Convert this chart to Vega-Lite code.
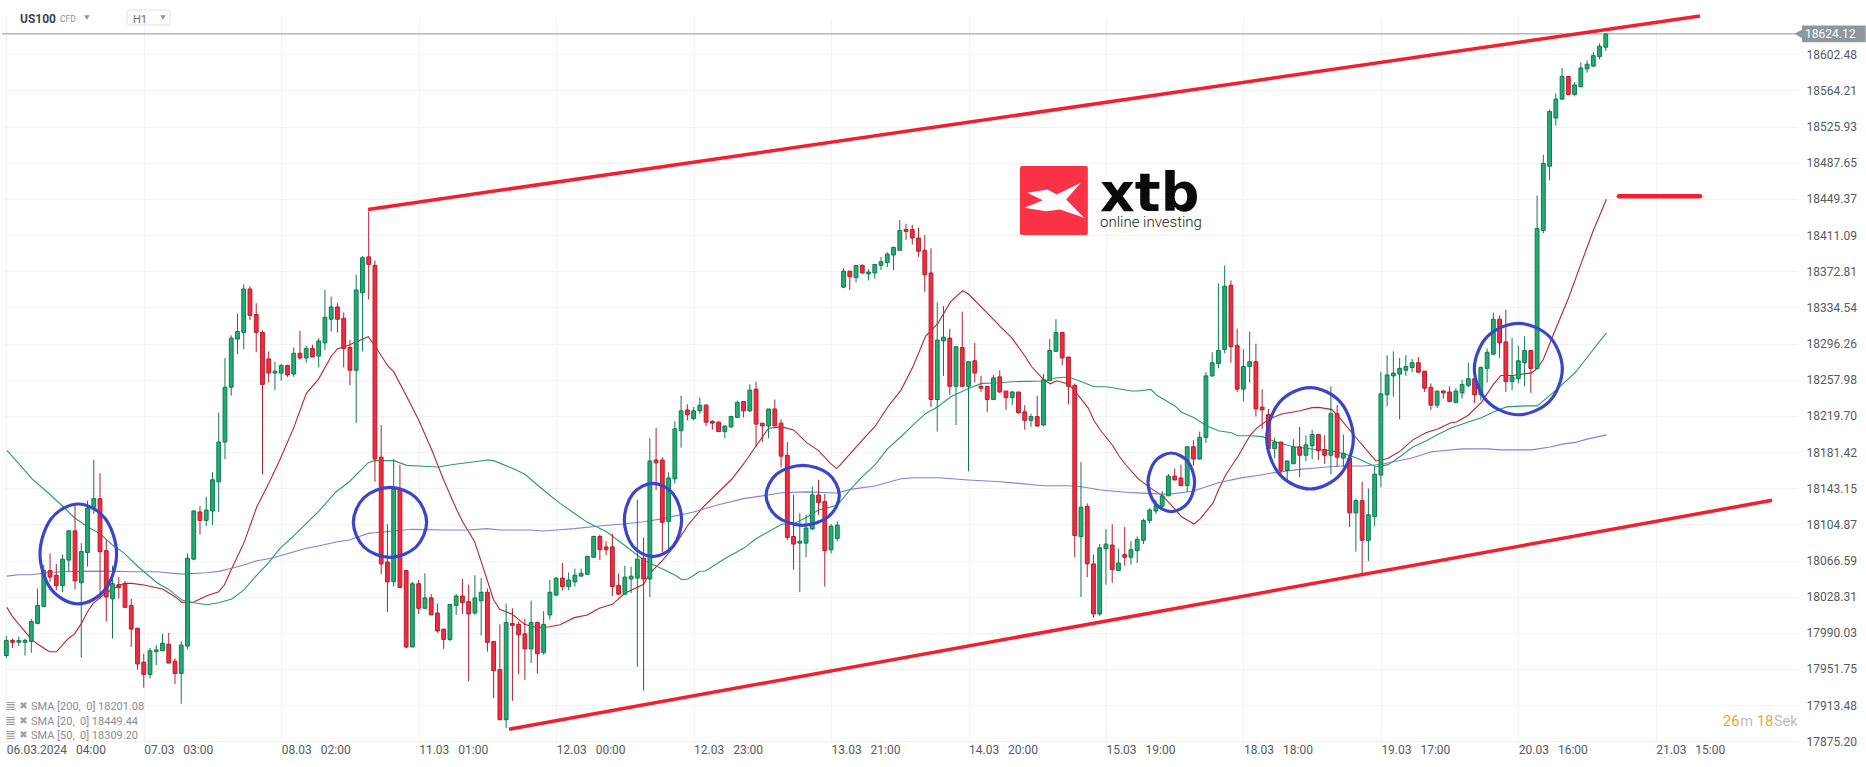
{
"$schema":"https://vega.github.io/schema/vega-lite/v6.json",
"width":1796,"height":723.3,
"autosize":{"type":"none"},
"padding":{"left":2,"top":18,"right":68,"bottom":25.7},
"background":"#ffffff",
"config":{"view":{"stroke":null},"font":"Roboto"},
"datasets":{
"candles":[
{"i":0,"o":17966,"h":17987,"l":17963,"c":17982},{"i":1,"o":17982,"h":17984,"l":17974,"c":17980},{"i":2,"o":17980,"h":17986,"l":17976,"c":17982},{"i":3,"o":17980,"h":17984,"l":17966,"c":17982},{"i":4,"o":17981,"h":18005,"l":17969,"c":18002},{"i":5,"o":18000,"h":18037,"l":17999,"c":18019},{"i":6,"o":18018,"h":18062,"l":18018,"c":18056},{"i":7,"o":18056,"h":18074,"l":18044,"c":18049},{"i":8,"o":18051,"h":18063,"l":18035,"c":18040},{"i":9,"o":18040,"h":18073,"l":18033,"c":18068},
{"i":10,"o":18067,"h":18099,"l":18055,"c":18098},{"i":11,"o":18098,"h":18125,"l":18036,"c":18045},{"i":12,"o":18043,"h":18085,"l":17964,"c":18076},{"i":13,"o":18075,"h":18130,"l":18060,"c":18122},{"i":14,"o":18123,"h":18173,"l":18116,"c":18132},{"i":15,"o":18132,"h":18159,"l":18026,"c":18076},{"i":16,"o":18077,"h":18088,"l":18002,"c":18028},{"i":17,"o":18026,"h":18061,"l":17984,"c":18042},{"i":18,"o":18041,"h":18049,"l":18026,"c":18038},{"i":19,"o":18042,"h":18045,"l":18017,"c":18017},
{"i":20,"o":18019,"h":18026,"l":17975,"c":17994},{"i":21,"o":17995,"h":17995,"l":17951,"c":17957},{"i":22,"o":17959,"h":17968,"l":17932,"c":17946},{"i":23,"o":17946,"h":17974,"l":17942,"c":17971},{"i":24,"o":17970,"h":17977,"l":17956,"c":17972},{"i":25,"o":17971,"h":17989,"l":17971,"c":17979},{"i":26,"o":17978,"h":17990,"l":17958,"c":17958},{"i":27,"o":17960,"h":17963,"l":17936,"c":17947},{"i":28,"o":17947,"h":17981,"l":17915,"c":17977},{"i":29,"o":17976,"h":18074,"l":17973,"c":18069},
{"i":30,"o":18068,"h":18120,"l":18067,"c":18119},{"i":31,"o":18118,"h":18124,"l":18094,"c":18109},{"i":32,"o":18109,"h":18134,"l":18103,"c":18120},{"i":33,"o":18119,"h":18160,"l":18104,"c":18152},{"i":34,"o":18150,"h":18223,"l":18118,"c":18192},{"i":35,"o":18192,"h":18281,"l":18174,"c":18250},{"i":36,"o":18250,"h":18305,"l":18241,"c":18302},{"i":37,"o":18301,"h":18328,"l":18285,"c":18309},{"i":38,"o":18308,"h":18359,"l":18290,"c":18354},{"i":39,"o":18354,"h":18357,"l":18321,"c":18326},
{"i":40,"o":18327,"h":18339,"l":18287,"c":18308},{"i":41,"o":18308,"h":18310,"l":18158,"c":18253},{"i":42,"o":18280,"h":18288,"l":18255,"c":18265},{"i":43,"o":18265,"h":18277,"l":18247,"c":18267},{"i":44,"o":18265,"h":18275,"l":18257,"c":18273},{"i":45,"o":18273,"h":18274,"l":18261,"c":18263},{"i":46,"o":18264,"h":18292,"l":18261,"c":18286},{"i":47,"o":18286,"h":18310,"l":18279,"c":18281},{"i":48,"o":18281,"h":18294,"l":18276,"c":18291},{"i":49,"o":18291,"h":18295,"l":18282,"c":18282},
{"i":50,"o":18283,"h":18302,"l":18271,"c":18299},{"i":51,"o":18297,"h":18353,"l":18289,"c":18324},{"i":52,"o":18322,"h":18346,"l":18309,"c":18335},{"i":53,"o":18335,"h":18339,"l":18308,"c":18322},{"i":54,"o":18323,"h":18329,"l":18271,"c":18291},{"i":55,"o":18292,"h":18300,"l":18252,"c":18268},{"i":56,"o":18268,"h":18369,"l":18212,"c":18353},{"i":57,"o":18350,"h":18389,"l":18288,"c":18387},{"i":58,"o":18388,"h":18436,"l":18343,"c":18380},{"i":59,"o":18379,"h":18384,"l":18150,"c":18174},
{"i":60,"o":18176,"h":18210,"l":18052,"c":18063},{"i":61,"o":18065,"h":18105,"l":18012,"c":18044},{"i":62,"o":18044,"h":18174,"l":18039,"c":18142},{"i":63,"o":18143,"h":18168,"l":18038,"c":18038},{"i":64,"o":18056,"h":18056,"l":17974,"c":17975},{"i":65,"o":17975,"h":18044,"l":17975,"c":18042},{"i":66,"o":18042,"h":18046,"l":18010,"c":18016},{"i":67,"o":18016,"h":18053,"l":18015,"c":18027},{"i":68,"o":18027,"h":18031,"l":18009,"c":18009},{"i":69,"o":18011,"h":18021,"l":17990,"c":17992},
{"i":70,"o":17994,"h":17994,"l":17973,"c":17983},{"i":71,"o":17983,"h":18020,"l":17981,"c":18020},{"i":72,"o":18019,"h":18031,"l":18009,"c":18029},{"i":73,"o":18029,"h":18047,"l":18010,"c":18022},{"i":74,"o":18023,"h":18041,"l":17939,"c":18010},{"i":75,"o":18011,"h":18051,"l":18009,"c":18027},{"i":76,"o":18024,"h":18048,"l":17987,"c":18033},{"i":77,"o":18033,"h":18037,"l":17970,"c":17980},{"i":78,"o":17981,"h":17981,"l":17921,"c":17950},{"i":79,"o":17951,"h":17999,"l":17898,"c":17898},
{"i":80,"o":17898,"h":18021,"l":17889,"c":18001},{"i":81,"o":18000,"h":18016,"l":17918,"c":17998},{"i":82,"o":17999,"h":18002,"l":17946,"c":17988},{"i":83,"o":17989,"h":18005,"l":17940,"c":17973},{"i":84,"o":17973,"h":18024,"l":17958,"c":18001},{"i":85,"o":18001,"h":18002,"l":17947,"c":17968},{"i":86,"o":17969,"h":18013,"l":17967,"c":17999},{"i":87,"o":18009,"h":18046,"l":18004,"c":18033},{"i":88,"o":18030,"h":18049,"l":18029,"c":18048},{"i":89,"o":18048,"h":18064,"l":18035,"c":18039},
{"i":90,"o":18039,"h":18054,"l":18035,"c":18046},{"i":91,"o":18044,"h":18058,"l":18039,"c":18051},{"i":92,"o":18050,"h":18058,"l":18050,"c":18053},{"i":93,"o":18052,"h":18071,"l":18052,"c":18071},{"i":94,"o":18070,"h":18093,"l":18070,"c":18092},{"i":95,"o":18092,"h":18094,"l":18067,"c":18078},{"i":96,"o":18081,"h":18087,"l":18072,"c":18078},{"i":97,"o":18081,"h":18095,"l":18029,"c":18039},{"i":98,"o":18040,"h":18053,"l":18030,"c":18031},{"i":99,"o":18031,"h":18061,"l":18030,"c":18049},
{"i":100,"o":18047,"h":18060,"l":18032,"c":18050},{"i":101,"o":18048,"h":18131,"l":17954,"c":18068},{"i":102,"o":18069,"h":18091,"l":17929,"c":18047},{"i":103,"o":18047,"h":18196,"l":18028,"c":18172},{"i":104,"o":18173,"h":18207,"l":18141,"c":18170},{"i":105,"o":18173,"h":18176,"l":18075,"c":18107},{"i":106,"o":18108,"h":18160,"l":18075,"c":18154},{"i":107,"o":18153,"h":18214,"l":18148,"c":18206},{"i":108,"o":18204,"h":18241,"l":18186,"c":18225},{"i":109,"o":18226,"h":18232,"l":18215,"c":18221},
{"i":110,"o":18217,"h":18229,"l":18215,"c":18225},{"i":111,"o":18225,"h":18239,"l":18222,"c":18231},{"i":112,"o":18231,"h":18232,"l":18209,"c":18213},{"i":113,"o":18214,"h":18215,"l":18205,"c":18212},{"i":114,"o":18213,"h":18214,"l":18203,"c":18203},{"i":115,"o":18203,"h":18209,"l":18196,"c":18209},{"i":116,"o":18208,"h":18220,"l":18207,"c":18219},{"i":117,"o":18218,"h":18236,"l":18218,"c":18234},{"i":118,"o":18235,"h":18235,"l":18218,"c":18225},{"i":119,"o":18225,"h":18253,"l":18224,"c":18247},
{"i":120,"o":18248,"h":18256,"l":18187,"c":18211},{"i":121,"o":18212,"h":18212,"l":18192,"c":18209},{"i":122,"o":18209,"h":18227,"l":18196,"c":18227},{"i":123,"o":18227,"h":18237,"l":18209,"c":18209},{"i":124,"o":18212,"h":18216,"l":18165,"c":18177},{"i":125,"o":18178,"h":18192,"l":18088,"c":18091},{"i":126,"o":18092,"h":18136,"l":18057,"c":18084},{"i":127,"o":18085,"h":18117,"l":18033,"c":18087},{"i":128,"o":18085,"h":18115,"l":18070,"c":18101},{"i":129,"o":18100,"h":18145,"l":18099,"c":18136},
{"i":130,"o":18136,"h":18152,"l":18115,"c":18128},{"i":131,"o":18129,"h":18137,"l":18039,"c":18077},{"i":132,"o":18078,"h":18105,"l":18074,"c":18103},{"i":133,"o":18090,"h":18108,"l":18087,"c":18104},{"i":134,"o":18356,"h":18376,"l":18355,"c":18373},{"i":135,"o":18373,"h":18373,"l":18353,"c":18367},{"i":136,"o":18366,"h":18379,"l":18361,"c":18379},{"i":137,"o":18379,"h":18380,"l":18370,"c":18371},{"i":138,"o":18370,"h":18375,"l":18363,"c":18372},{"i":139,"o":18371,"h":18380,"l":18365,"c":18380},
{"i":140,"o":18379,"h":18388,"l":18374,"c":18383},{"i":141,"o":18382,"h":18393,"l":18377,"c":18391},{"i":142,"o":18390,"h":18399,"l":18374,"c":18398},{"i":143,"o":18395,"h":18427,"l":18395,"c":18416},{"i":144,"o":18417,"h":18423,"l":18406,"c":18415},{"i":145,"o":18417,"h":18422,"l":18401,"c":18408},{"i":146,"o":18408,"h":18419,"l":18388,"c":18394},{"i":147,"o":18395,"h":18411,"l":18351,"c":18369},{"i":148,"o":18371,"h":18397,"l":18229,"c":18237},{"i":149,"o":18237,"h":18340,"l":18203,"c":18300},
{"i":150,"o":18299,"h":18336,"l":18262,"c":18303},{"i":151,"o":18302,"h":18312,"l":18242,"c":18251},{"i":152,"o":18251,"h":18293,"l":18210,"c":18293},{"i":153,"o":18292,"h":18330,"l":18250,"c":18251},{"i":154,"o":18251,"h":18277,"l":18161,"c":18277},{"i":155,"o":18278,"h":18297,"l":18255,"c":18265},{"i":156,"o":18251,"h":18262,"l":18245,"c":18249},{"i":157,"o":18251,"h":18251,"l":18224,"c":18237},{"i":158,"o":18237,"h":18263,"l":18237,"c":18260},{"i":159,"o":18261,"h":18268,"l":18244,"c":18245},
{"i":160,"o":18246,"h":18246,"l":18226,"c":18239},{"i":161,"o":18239,"h":18246,"l":18231,"c":18245},{"i":162,"o":18245,"h":18245,"l":18222,"c":18223},{"i":163,"o":18224,"h":18231,"l":18205,"c":18215},{"i":164,"o":18215,"h":18222,"l":18208,"c":18219},{"i":165,"o":18219,"h":18241,"l":18208,"c":18209},{"i":166,"o":18210,"h":18264,"l":18209,"c":18258},{"i":167,"o":18257,"h":18301,"l":18257,"c":18289},{"i":168,"o":18288,"h":18322,"l":18288,"c":18308},{"i":169,"o":18308,"h":18308,"l":18273,"c":18281},
{"i":170,"o":18282,"h":18282,"l":18232,"c":18251},{"i":171,"o":18252,"h":18254,"l":18070,"c":18093},{"i":172,"o":18092,"h":18171,"l":18028,"c":18123},{"i":173,"o":18124,"h":18127,"l":18049,"c":18063},{"i":174,"o":18063,"h":18073,"l":18006,"c":18010},{"i":175,"o":18010,"h":18084,"l":18008,"c":18080},{"i":176,"o":18079,"h":18100,"l":18041,"c":18084},{"i":177,"o":18083,"h":18105,"l":18043,"c":18057},{"i":178,"o":18056,"h":18079,"l":18056,"c":18064},{"i":179,"o":18073,"h":18102,"l":18061,"c":18070},
{"i":180,"o":18070,"h":18087,"l":18062,"c":18078},{"i":181,"o":18077,"h":18092,"l":18064,"c":18089},{"i":182,"o":18088,"h":18111,"l":18084,"c":18109},{"i":183,"o":18109,"h":18122,"l":18106,"c":18120},{"i":184,"o":18119,"h":18131,"l":18116,"c":18125},{"i":185,"o":18124,"h":18140,"l":18123,"c":18135},{"i":186,"o":18135,"h":18158,"l":18135,"c":18156},{"i":187,"o":18156,"h":18164,"l":18151,"c":18152},{"i":188,"o":18154,"h":18168,"l":18145,"c":18146},{"i":189,"o":18146,"h":18187,"l":18139,"c":18187},
{"i":190,"o":18187,"h":18194,"l":18167,"c":18174},{"i":191,"o":18174,"h":18203,"l":18173,"c":18197},{"i":192,"o":18197,"h":18266,"l":18191,"c":18262},{"i":193,"o":18262,"h":18287,"l":18261,"c":18276},{"i":194,"o":18275,"h":18360,"l":18270,"c":18289},{"i":195,"o":18290,"h":18379,"l":18286,"c":18357},{"i":196,"o":18358,"h":18363,"l":18276,"c":18293},{"i":197,"o":18294,"h":18312,"l":18245,"c":18248},{"i":198,"o":18248,"h":18290,"l":18235,"c":18272},{"i":199,"o":18272,"h":18309,"l":18255,"c":18277},
{"i":200,"o":18277,"h":18296,"l":18219,"c":18227},{"i":201,"o":18229,"h":18248,"l":18206,"c":18226},{"i":202,"o":18221,"h":18227,"l":18185,"c":18185},{"i":203,"o":18185,"h":18197,"l":18175,"c":18192},{"i":204,"o":18192,"h":18192,"l":18157,"c":18162},{"i":205,"o":18162,"h":18172,"l":18152,"c":18172},{"i":206,"o":18169,"h":18195,"l":18169,"c":18187},{"i":207,"o":18187,"h":18208,"l":18155,"c":18178},{"i":208,"o":18178,"h":18199,"l":18172,"c":18189},{"i":209,"o":18188,"h":18205,"l":18174,"c":18200},
{"i":210,"o":18200,"h":18200,"l":18173,"c":18183},{"i":211,"o":18184,"h":18199,"l":18169,"c":18178},{"i":212,"o":18178,"h":18251,"l":18158,"c":18222},{"i":213,"o":18222,"h":18231,"l":18166,"c":18176},{"i":214,"o":18175,"h":18200,"l":18166,"c":18180},{"i":215,"o":18175,"h":18179,"l":18102,"c":18117},{"i":216,"o":18117,"h":18132,"l":18076,"c":18130},{"i":217,"o":18130,"h":18150,"l":18050,"c":18088},{"i":218,"o":18088,"h":18143,"l":18066,"c":18115},{"i":219,"o":18113,"h":18166,"l":18103,"c":18158},
{"i":220,"o":18157,"h":18266,"l":18144,"c":18243},{"i":221,"o":18242,"h":18284,"l":18230,"c":18263},{"i":222,"o":18262,"h":18288,"l":18240,"c":18265},{"i":223,"o":18264,"h":18281,"l":18216,"c":18270},{"i":224,"o":18268,"h":18284,"l":18262,"c":18272},{"i":225,"o":18271,"h":18280,"l":18266,"c":18276},{"i":226,"o":18276,"h":18282,"l":18265,"c":18266},{"i":227,"o":18267,"h":18267,"l":18245,"c":18249},{"i":228,"o":18250,"h":18254,"l":18226,"c":18231},{"i":229,"o":18231,"h":18246,"l":18228,"c":18246},
{"i":230,"o":18246,"h":18247,"l":18238,"c":18244},{"i":231,"o":18245,"h":18251,"l":18234,"c":18235},{"i":232,"o":18234,"h":18249,"l":18233,"c":18246},{"i":233,"o":18244,"h":18258,"l":18238,"c":18253},{"i":234,"o":18252,"h":18276,"l":18250,"c":18259},{"i":235,"o":18259,"h":18262,"l":18233,"c":18242},{"i":236,"o":18242,"h":18272,"l":18236,"c":18271},{"i":237,"o":18270,"h":18291,"l":18255,"c":18287},{"i":238,"o":18285,"h":18329,"l":18284,"c":18322},{"i":239,"o":18322,"h":18326,"l":18281,"c":18297},
{"i":240,"o":18298,"h":18332,"l":18245,"c":18256},{"i":241,"o":18256,"h":18302,"l":18247,"c":18261},{"i":242,"o":18259,"h":18294,"l":18254,"c":18278},{"i":243,"o":18276,"h":18304,"l":18251,"c":18289},{"i":244,"o":18289,"h":18289,"l":18244,"c":18270},{"i":245,"o":18270,"h":18453,"l":18270,"c":18418},{"i":246,"o":18416,"h":18496,"l":18413,"c":18487},{"i":247,"o":18484,"h":18544,"l":18469,"c":18542},{"i":248,"o":18535,"h":18561,"l":18527,"c":18555},{"i":249,"o":18555,"h":18588,"l":18555,"c":18579},
{"i":250,"o":18579,"h":18579,"l":18559,"c":18560},{"i":251,"o":18560,"h":18573,"l":18558,"c":18570},{"i":252,"o":18568,"h":18594,"l":18568,"c":18588},{"i":253,"o":18587,"h":18596,"l":18583,"c":18592},{"i":254,"o":18590,"h":18605,"l":18589,"c":18601},{"i":255,"o":18600,"h":18614,"l":18597,"c":18611},{"i":256,"o":18610,"h":18625,"l":18606,"c":18624}
],
"sma":[
{"s":"SMA20","i":0.1,"p":18017},{"s":"SMA20","i":1,"p":18007.1},{"s":"SMA20","i":4.04,"p":17983.1},{"s":"SMA20","i":5,"p":17978.2},{"s":"SMA20","i":6.9,"p":17970},{"s":"SMA20","i":8,"p":17970},{"s":"SMA20","i":9.94,"p":17984.1},{"s":"SMA20","i":10.9,"p":17988.7},{"s":"SMA20","i":12,"p":17999.8},{"s":"SMA20","i":13,"p":18012.4},{"s":"SMA20","i":13.9,"p":18021.2},{"s":"SMA20","i":14.9,"p":18026.5},{"s":"SMA20","i":16,"p":18032.5},{"s":"SMA20","i":17,"p":18036},{"s":"SMA20","i":17.9,"p":18039.6},{"s":"SMA20","i":18.9,"p":18042.4},{"s":"SMA20","i":20.1,"p":18042.4},{"s":"SMA20","i":22,"p":18040.6},{"s":"SMA20","i":25,"p":18036.4},{"s":"SMA20","i":27,"p":18028.3},{"s":"SMA20","i":28.1,"p":18022.3},{"s":"SMA20","i":30,"p":18022.6},{"s":"SMA20","i":32.1,"p":18029.3},{"s":"SMA20","i":34,"p":18033.6},{"s":"SMA20","i":34.9,"p":18040.6},{"s":"SMA20","i":36.1,"p":18058.3},{"s":"SMA20","i":38,"p":18084.7},{"s":"SMA20","i":40.1,"p":18123.5},{"s":"SMA20","i":42,"p":18148.2},{"s":"SMA20","i":43.83,"p":18173.7},{"s":"SMA20","i":45.96,"p":18206.5},{"s":"SMA20","i":48.03,"p":18243.5},{"s":"SMA20","i":49.95,"p":18258.4},{"s":"SMA20","i":52.03,"p":18283.1},{"s":"SMA20","i":52.98,"p":18290.5},{"s":"SMA20","i":54.9,"p":18294.7},{"s":"SMA20","i":56,"p":18298.3},{"s":"SMA20","i":57.93,"p":18303.5},{"s":"SMA20","i":58.9,"p":18294.7},{"s":"SMA20","i":61.07,"p":18272.5},{"s":"SMA20","i":62,"p":18266.5},{"s":"SMA20","i":64.1,"p":18240},{"s":"SMA20","i":66,"p":18215.3},{"s":"SMA20","i":68.1,"p":18183.6},{"s":"SMA20","i":70,"p":18151.8},{"s":"SMA20","i":72.1,"p":18120},{"s":"SMA20","i":73.04,"p":18107.7},{"s":"SMA20","i":74.96,"p":18086.5},{"s":"SMA20","i":76.1,"p":18063.6},{"s":"SMA20","i":78,"p":18024.8},{"s":"SMA20","i":78.95,"p":18014.9},{"s":"SMA20","i":81,"p":18009.6},{"s":"SMA20","i":82.94,"p":17999},{"s":"SMA20","i":85,"p":17995.5},{"s":"SMA20","i":86.93,"p":17996.5},{"s":"SMA20","i":88.63,"p":17998.6},{"s":"SMA20","i":90.9,"p":18006.1},{"s":"SMA20","i":93,"p":18008.9},{"s":"SMA20","i":94.9,"p":18016},{"s":"SMA20","i":97,"p":18020.2},{"s":"SMA20","i":99,"p":18031.9},{"s":"SMA20","i":102,"p":18041.4},{"s":"SMA20","i":103,"p":18053.1},{"s":"SMA20","i":105.1,"p":18067.2},{"s":"SMA20","i":107,"p":18082.3},{"s":"SMA20","i":109.1,"p":18104.2},{"s":"SMA20","i":111.6,"p":18123.6},{"s":"SMA20","i":116.1,"p":18152.6},{"s":"SMA20","i":118,"p":18168.8},{"s":"SMA20","i":120.1,"p":18188.9},{"s":"SMA20","i":122,"p":18206.6},{"s":"SMA20","i":124.1,"p":18208},{"s":"SMA20","i":126,"p":18204.8},{"s":"SMA20","i":128.1,"p":18191.4},{"s":"SMA20","i":130,"p":18182.9},{"s":"SMA20","i":131.9,"p":18169.5},{"s":"SMA20","i":132.9,"p":18163.9},{"s":"SMA20","i":133.43,"p":18167.6},{"s":"SMA20","i":137,"p":18194.1},{"s":"SMA20","i":139,"p":18208.2},{"s":"SMA20","i":141.1,"p":18229.4},{"s":"SMA20","i":143.2,"p":18247},{"s":"SMA20","i":145.1,"p":18271.7},{"s":"SMA20","i":147.15,"p":18304.2},{"s":"SMA20","i":149.1,"p":18317.6},{"s":"SMA20","i":151.15,"p":18340.6},{"s":"SMA20","i":153.06,"p":18352.2},{"s":"SMA20","i":154,"p":18348.7},{"s":"SMA20","i":157.05,"p":18328.2},{"s":"SMA20","i":159.1,"p":18314.1},{"s":"SMA20","i":161,"p":18301.7},{"s":"SMA20","i":163.1,"p":18282.3},{"s":"SMA20","i":164.1,"p":18271.7},{"s":"SMA20","i":166,"p":18258.3},{"s":"SMA20","i":167.1,"p":18253.7},{"s":"SMA20","i":168.1,"p":18256.9},{"s":"SMA20","i":170,"p":18253.4},{"s":"SMA20","i":171.1,"p":18245.3},{"s":"SMA20","i":173.2,"p":18227.7},{"s":"SMA20","i":174.1,"p":18214.6},{"s":"SMA20","i":175.1,"p":18204.7},{"s":"SMA20","i":177.1,"p":18188.1},{"s":"SMA20","i":178.1,"p":18177.2},{"s":"SMA20","i":179.2,"p":18167.7},{"s":"SMA20","i":181.1,"p":18153.5},{"s":"SMA20","i":183.2,"p":18142.9},{"s":"SMA20","i":185.1,"p":18134.8},{"s":"SMA20","i":187.2,"p":18120},{"s":"SMA20","i":188.1,"p":18112.9},{"s":"SMA20","i":190.1,"p":18105.2},{"s":"SMA20","i":191.15,"p":18111.2},{"s":"SMA20","i":193.1,"p":18127.1},{"s":"SMA20","i":194,"p":18141.2},{"s":"SMA20","i":195.15,"p":18157.1},{"s":"SMA20","i":197.1,"p":18176.5},{"s":"SMA20","i":199.1,"p":18199.4},{"s":"SMA20","i":200.1,"p":18206.5},{"s":"SMA20","i":202,"p":18216},{"s":"SMA20","i":204.1,"p":18221.7},{"s":"SMA20","i":207.1,"p":18225.2},{"s":"SMA20","i":209,"p":18228.4},{"s":"SMA20","i":210,"p":18228.7},{"s":"SMA20","i":212.1,"p":18226.6},{"s":"SMA20","i":213,"p":18220.8},{"s":"SMA20","i":215.6,"p":18200},{"s":"SMA20","i":219.2,"p":18172},{"s":"SMA20","i":221.1,"p":18174.6},{"s":"SMA20","i":223.2,"p":18182.9},{"s":"SMA20","i":225.1,"p":18194.3},{"s":"SMA20","i":227.2,"p":18201.9},{"s":"SMA20","i":229.1,"p":18205.7},{"s":"SMA20","i":231.2,"p":18212.5},{"s":"SMA20","i":232.1,"p":18213.3},{"s":"SMA20","i":234,"p":18220.4},{"s":"SMA20","i":236.1,"p":18234.1},{"s":"SMA20","i":238,"p":18253},{"s":"SMA20","i":239.2,"p":18262.5},{"s":"SMA20","i":241.1,"p":18262.5},{"s":"SMA20","i":244.1,"p":18265.2},{"s":"SMA20","i":245.05,"p":18270.1},{"s":"SMA20","i":246,"p":18279.6},{"s":"SMA20","i":248.1,"p":18313.7},{"s":"SMA20","i":250,"p":18344},{"s":"SMA20","i":252.1,"p":18381.9},{"s":"SMA20","i":254,"p":18416},{"s":"SMA20","i":256.1,"p":18449},
{"s":"SMA50","i":0.1,"p":18183.2},{"s":"SMA50","i":1.96,"p":18169.4},{"s":"SMA50","i":4.04,"p":18153.5},{"s":"SMA50","i":6.9,"p":18137},{"s":"SMA50","i":9,"p":18124.3},{"s":"SMA50","i":10.9,"p":18111.9},{"s":"SMA50","i":13,"p":18102.4},{"s":"SMA50","i":14.9,"p":18095.3},{"s":"SMA50","i":17,"p":18083},{"s":"SMA50","i":18.9,"p":18074.1},{"s":"SMA50","i":21.1,"p":18060},{"s":"SMA50","i":24.1,"p":18043.1},{"s":"SMA50","i":26,"p":18036},{"s":"SMA50","i":28.1,"p":18024.7},{"s":"SMA50","i":30,"p":18021.9},{"s":"SMA50","i":32.1,"p":18019.8},{"s":"SMA50","i":34,"p":18021.9},{"s":"SMA50","i":36.1,"p":18025.8},{"s":"SMA50","i":38,"p":18035.3},{"s":"SMA50","i":40.1,"p":18051.2},{"s":"SMA50","i":42,"p":18064.3},{"s":"SMA50","i":43.8,"p":18079.4},{"s":"SMA50","i":45.96,"p":18092.5},{"s":"SMA50","i":48.03,"p":18105.9},{"s":"SMA50","i":49.95,"p":18118.3},{"s":"SMA50","i":52.8,"p":18139.4},{"s":"SMA50","i":54.9,"p":18150},{"s":"SMA50","i":57.93,"p":18170.1},{"s":"SMA50","i":58.9,"p":18172.3},{"s":"SMA50","i":62,"p":18172.3},{"s":"SMA50","i":64.1,"p":18167.3},{"s":"SMA50","i":66,"p":18166.6},{"s":"SMA50","i":69.05,"p":18165.6},{"s":"SMA50","i":72.1,"p":18168.7},{"s":"SMA50","i":74.96,"p":18171.2},{"s":"SMA50","i":77,"p":18173},{"s":"SMA50","i":78,"p":18172.3},{"s":"SMA50","i":80.9,"p":18164.5},{"s":"SMA50","i":82.94,"p":18158.1},{"s":"SMA50","i":85,"p":18146.5},{"s":"SMA50","i":86.93,"p":18135.9},{"s":"SMA50","i":88.63,"p":18127.1},{"s":"SMA50","i":90.9,"p":18116.6},{"s":"SMA50","i":93,"p":18107},{"s":"SMA50","i":96,"p":18097.2},{"s":"SMA50","i":98.9,"p":18083},{"s":"SMA50","i":102,"p":18067.2},{"s":"SMA50","i":105.1,"p":18057.3},{"s":"SMA50","i":107,"p":18051.3},{"s":"SMA50","i":108.1,"p":18046.3},{"s":"SMA50","i":109.1,"p":18047},{"s":"SMA50","i":111,"p":18055.2},{"s":"SMA50","i":111.9,"p":18055.5},{"s":"SMA50","i":115.1,"p":18068.9},{"s":"SMA50","i":118,"p":18079.5},{"s":"SMA50","i":120.1,"p":18090.1},{"s":"SMA50","i":124.1,"p":18104.9},{"s":"SMA50","i":126,"p":18105.3},{"s":"SMA50","i":128.1,"p":18112.3},{"s":"SMA50","i":130,"p":18120.1},{"s":"SMA50","i":133,"p":18125},{"s":"SMA50","i":135.1,"p":18141.9},{"s":"SMA50","i":137,"p":18155.3},{"s":"SMA50","i":139,"p":18167.6},{"s":"SMA50","i":141.1,"p":18185.3},{"s":"SMA50","i":143.2,"p":18197.6},{"s":"SMA50","i":145.1,"p":18210},{"s":"SMA50","i":147.15,"p":18222.3},{"s":"SMA50","i":149.1,"p":18229.4},{"s":"SMA50","i":151.15,"p":18240},{"s":"SMA50","i":154,"p":18248.8},{"s":"SMA50","i":156.1,"p":18254.1},{"s":"SMA50","i":159.1,"p":18254.8},{"s":"SMA50","i":161,"p":18255.9},{"s":"SMA50","i":166,"p":18256.6},{"s":"SMA50","i":168.1,"p":18260.1},{"s":"SMA50","i":170,"p":18260.8},{"s":"SMA50","i":172.1,"p":18255.9},{"s":"SMA50","i":174.1,"p":18250.6},{"s":"SMA50","i":176.1,"p":18250.6},{"s":"SMA50","i":180.1,"p":18246},{"s":"SMA50","i":181.1,"p":18246},{"s":"SMA50","i":183.2,"p":18247.8},{"s":"SMA50","i":184.1,"p":18241.8},{"s":"SMA50","i":187.2,"p":18229.4},{"s":"SMA50","i":188.1,"p":18223.4},{"s":"SMA50","i":190.1,"p":18217.8},{"s":"SMA50","i":192.1,"p":18209.3},{"s":"SMA50","i":194,"p":18204},{"s":"SMA50","i":196.1,"p":18201.9},{"s":"SMA50","i":197.1,"p":18198.7},{"s":"SMA50","i":199.1,"p":18198.7},{"s":"SMA50","i":201.05,"p":18197.7},{"s":"SMA50","i":203.1,"p":18192.4},{"s":"SMA50","i":206,"p":18187.1},{"s":"SMA50","i":209,"p":18184.6},{"s":"SMA50","i":212.1,"p":18182.8},{"s":"SMA50","i":214,"p":18179.9},{"s":"SMA50","i":216.15,"p":18175},{"s":"SMA50","i":218.1,"p":18168.9},{"s":"SMA50","i":219.2,"p":18165.9},{"s":"SMA50","i":221.1,"p":18167.8},{"s":"SMA50","i":223.2,"p":18177.2},{"s":"SMA50","i":225.1,"p":18186.7},{"s":"SMA50","i":227.2,"p":18193.2},{"s":"SMA50","i":229.1,"p":18200},{"s":"SMA50","i":231.2,"p":18206.8},{"s":"SMA50","i":234,"p":18213.3},{"s":"SMA50","i":236.1,"p":18217.8},{"s":"SMA50","i":238,"p":18223.9},{"s":"SMA50","i":240.1,"p":18229.2},{"s":"SMA50","i":243.1,"p":18230.3},{"s":"SMA50","i":245.05,"p":18230.3},{"s":"SMA50","i":247.1,"p":18241.7},{"s":"SMA50","i":249.05,"p":18253.1},{"s":"SMA50","i":251.1,"p":18265.6},{"s":"SMA50","i":253,"p":18281.5},{"s":"SMA50","i":255.1,"p":18299.3},{"s":"SMA50","i":256.1,"p":18307.2},
{"s":"SMA200","i":0.1,"p":18050.1},{"s":"SMA200","i":1.96,"p":18051.5},{"s":"SMA200","i":4.04,"p":18051.5},{"s":"SMA200","i":5.95,"p":18053.3},{"s":"SMA200","i":8,"p":18054.4},{"s":"SMA200","i":10.9,"p":18055.1},{"s":"SMA200","i":17,"p":18055.4},{"s":"SMA200","i":20.1,"p":18054.7},{"s":"SMA200","i":24.1,"p":18054.7},{"s":"SMA200","i":28.1,"p":18052.2},{"s":"SMA200","i":32.1,"p":18053.7},{"s":"SMA200","i":34,"p":18055.1},{"s":"SMA200","i":36.1,"p":18058.3},{"s":"SMA200","i":38,"p":18061.8},{"s":"SMA200","i":40.1,"p":18066.4},{"s":"SMA200","i":42,"p":18068.5},{"s":"SMA200","i":43.8,"p":18071.7},{"s":"SMA200","i":48.03,"p":18079.5},{"s":"SMA200","i":49.95,"p":18081.9},{"s":"SMA200","i":52.98,"p":18086.5},{"s":"SMA200","i":54.9,"p":18088.3},{"s":"SMA200","i":57.93,"p":18095.3},{"s":"SMA200","i":58.9,"p":18096},{"s":"SMA200","i":62,"p":18097.8},{"s":"SMA200","i":65.06,"p":18099.6},{"s":"SMA200","i":70,"p":18098.9},{"s":"SMA200","i":74,"p":18098.9},{"s":"SMA200","i":77,"p":18100.3},{"s":"SMA200","i":78.95,"p":18098.9},{"s":"SMA200","i":84.06,"p":18098.9},{"s":"SMA200","i":86,"p":18097.8},{"s":"SMA200","i":88.63,"p":18099.2},{"s":"SMA200","i":90.9,"p":18100.3},{"s":"SMA200","i":94.9,"p":18103.2},{"s":"SMA200","i":98.7,"p":18105.3},{"s":"SMA200","i":102,"p":18107.7},{"s":"SMA200","i":105.1,"p":18110.9},{"s":"SMA200","i":110,"p":18118},{"s":"SMA200","i":114,"p":18125.7},{"s":"SMA200","i":118,"p":18132.1},{"s":"SMA200","i":122,"p":18136},{"s":"SMA200","i":124.1,"p":18138.4},{"s":"SMA200","i":128.1,"p":18139.2},{"s":"SMA200","i":133,"p":18138.1},{"s":"SMA200","i":135.1,"p":18141.9},{"s":"SMA200","i":139,"p":18145.4},{"s":"SMA200","i":143.2,"p":18153.2},{"s":"SMA200","i":145.1,"p":18154.2},{"s":"SMA200","i":149.1,"p":18154.2},{"s":"SMA200","i":154,"p":18151.8},{"s":"SMA200","i":159.1,"p":18150},{"s":"SMA200","i":166,"p":18145.8},{"s":"SMA200","i":170,"p":18145.8},{"s":"SMA200","i":172.1,"p":18144.7},{"s":"SMA200","i":175.1,"p":18141.2},{"s":"SMA200","i":180.1,"p":18138.4},{"s":"SMA200","i":186.05,"p":18136.6},{"s":"SMA200","i":190,"p":18140.1},{"s":"SMA200","i":194,"p":18149},{"s":"SMA200","i":198,"p":18154.6},{"s":"SMA200","i":200.1,"p":18156.4},{"s":"SMA200","i":203.1,"p":18159.9},{"s":"SMA200","i":207.1,"p":18163.1},{"s":"SMA200","i":210,"p":18164.8},{"s":"SMA200","i":213.45,"p":18166.6},{"s":"SMA200","i":217.3,"p":18166.6},{"s":"SMA200","i":220.15,"p":18168.5},{"s":"SMA200","i":225.1,"p":18175.3},{"s":"SMA200","i":228.1,"p":18181.8},{"s":"SMA200","i":233.1,"p":18184.8},{"s":"SMA200","i":237.1,"p":18184.8},{"s":"SMA200","i":239.15,"p":18183.7},{"s":"SMA200","i":244.1,"p":18183.7},{"s":"SMA200","i":247.1,"p":18186.7},{"s":"SMA200","i":249.05,"p":18189.8},{"s":"SMA200","i":251.1,"p":18191.6},{"s":"SMA200","i":253,"p":18195.1},{"s":"SMA200","i":256.1,"p":18199.6}
],
"circles":[
{"e":1,"n":0,"i":17.65,"p":18073.5},{"e":1,"n":1,"i":15.85,"p":18110.9},{"e":1,"n":2,"i":11.52,"p":18126.4},{"e":1,"n":3,"i":7.19,"p":18110.9},{"e":1,"n":4,"i":5.39,"p":18073.5},{"e":1,"n":5,"i":7.19,"p":18036.1},{"e":1,"n":6,"i":11.52,"p":18020.6},{"e":1,"n":7,"i":15.85,"p":18036.1},
{"e":2,"n":0,"i":67.28,"p":18107},{"e":2,"n":1,"i":65.56,"p":18133.2},{"e":2,"n":2,"i":61.41,"p":18144.05},{"e":2,"n":3,"i":57.26,"p":18133.2},{"e":2,"n":4,"i":55.54,"p":18107},{"e":2,"n":5,"i":57.26,"p":18080.8},{"e":2,"n":6,"i":61.41,"p":18069.95},{"e":2,"n":7,"i":65.56,"p":18080.8},
{"e":3,"n":0,"i":108.09,"p":18109.5},{"e":3,"n":1,"i":106.75,"p":18137},{"e":3,"n":2,"i":103.5,"p":18148.35},{"e":3,"n":3,"i":100.25,"p":18137},{"e":3,"n":4,"i":98.91,"p":18109.5},{"e":3,"n":5,"i":100.25,"p":18082},{"e":3,"n":6,"i":103.5,"p":18070.65},{"e":3,"n":7,"i":106.75,"p":18082},
{"e":4,"n":0,"i":133.33,"p":18135.6},{"e":4,"n":1,"i":131.61,"p":18158.1},{"e":4,"n":2,"i":127.46,"p":18167.4},{"e":4,"n":3,"i":123.31,"p":18158.1},{"e":4,"n":4,"i":121.59,"p":18135.6},{"e":4,"n":5,"i":123.31,"p":18113.1},{"e":4,"n":6,"i":127.46,"p":18103.8},{"e":4,"n":7,"i":131.61,"p":18113.1},
{"e":5,"n":0,"i":190.19,"p":18149.4},{"e":5,"n":1,"i":189.1,"p":18171.3},{"e":5,"n":2,"i":186.46,"p":18180.4},{"e":5,"n":3,"i":183.82,"p":18171.3},{"e":5,"n":4,"i":182.73,"p":18149.4},{"e":5,"n":5,"i":183.82,"p":18127.5},{"e":5,"n":6,"i":186.46,"p":18118.4},{"e":5,"n":7,"i":189.1,"p":18127.5},
{"e":6,"n":0,"i":215.59,"p":18196},{"e":6,"n":1,"i":213.56,"p":18234},{"e":6,"n":2,"i":208.66,"p":18249.7},{"e":6,"n":3,"i":203.76,"p":18234},{"e":6,"n":4,"i":201.73,"p":18196},{"e":6,"n":5,"i":203.76,"p":18158},{"e":6,"n":6,"i":208.66,"p":18142.3},{"e":6,"n":7,"i":213.56,"p":18158},
{"e":7,"n":0,"i":249.04,"p":18269.3},{"e":7,"n":1,"i":246.98,"p":18303.5},{"e":7,"n":2,"i":242,"p":18317.7},{"e":7,"n":3,"i":237.02,"p":18303.5},{"e":7,"n":4,"i":234.96,"p":18269.3},{"e":7,"n":5,"i":237.02,"p":18235.1},{"e":7,"n":6,"i":242,"p":18220.9},{"e":7,"n":7,"i":246.98,"p":18235.1}
],
"trend":[
{"t":"upper","i":57.89,"p":18438.2},{"t":"upper","i":271.08,"p":18643},
{"t":"lower","i":80.46,"p":17887.9},{"t":"lower","i":282.6,"p":18130.3}
]
},
"encoding":{
"x":{"field":"i","type":"quantitative","scale":{"domain":[-0.688,286.76],"nice":false,"zero":false,"padding":0},
"axis":{"values":[0,22,44,66,88,110,132,154,176,198,220,242,264],"labelExpr":"['06.03.2024\u00a0\u00a0\u00a004:00','07.03\u00a0\u00a0\u00a003:00','08.03\u00a0\u00a0\u00a002:00','11.03\u00a0\u00a0\u00a001:00','12.03\u00a0\u00a0\u00a000:00','12.03\u00a0\u00a0\u00a023:00','13.03\u00a0\u00a0\u00a021:00','14.03\u00a0\u00a0\u00a020:00','15.03\u00a0\u00a0\u00a019:00','18.03\u00a0\u00a0\u00a018:00','19.03\u00a0\u00a0\u00a017:00','20.03\u00a0\u00a0\u00a016:00','21.03\u00a0\u00a0\u00a015:00'][datum.value/22]","title":null,"grid":true,"gridColor":"#f1f2f3","gridWidth":1,"domain":false,"ticks":false,"labelAlign":"left","labelBaseline":"top","labelPadding":3,"labelFontSize":12,"labelColor":"#555b60","labelFont":"Roboto","labelOverlap":false,"labelBound":false,"labelFlush":false}},
"y":{"field":"p","type":"quantitative","scale":{"domain":[17875.2,18640.9],"nice":false,"zero":false,"padding":0},
"axis":{"orient":"right","values":[18602.48,18564.21,18525.93,18487.65,18449.37,18411.09,18372.81,18334.54,18296.26,18257.98,18219.7,18181.42,18143.15,18104.87,18066.59,18028.31,17990.03,17951.75,17913.48,17875.2],"format":".2f","title":null,"grid":true,"gridColor":"#f1f2f3","gridWidth":1,"domain":false,"ticks":false,"labelPadding":8,"labelFontSize":12,"labelColor":"#555b60","labelFont":"Roboto","labelOverlap":false,"labelBound":false,"labelFlush":false}}
},
"layer":[
{"data":{"values":[{"i":162.24,"i2":173.1,"p":18484.2,"p2":18411.2}]},"mark":{"type":"rect","fill":"#f93345","cornerRadius":2},"encoding":{"x2":{"field":"i2"},"y2":{"field":"p2"}}},
{"data":{"values":[{"i":167.7,"p":18447.7}]},"mark":{"type":"point","filled":true,"fill":"#ffffff","opacity":1,"size":4,"shape":"M-26.7,-7.7L-6.7,-11L2.7,-6L26.7,-17.7L12,-1L30,17.3L6,9L-8,10.7L-29.7,7.3L-11.3,-0.3Z"}},
{"data":{"values":[{"i":175.05,"p":18436.6,"t":"xtb"}]},"mark":{"type":"text","align":"left","baseline":"alphabetic","font":"DejaVu Sans","fontWeight":"bold","fontSize":54,"fill":"#0a0a0a"},"encoding":{"text":{"field":"t"}}},
{"data":{"values":[{"i":175.05,"p":18419.3,"t":"online investing"}]},"mark":{"type":"text","align":"left","baseline":"alphabetic","font":"Roboto","fontWeight":300,"fontSize":15,"fill":"#222222"},"encoding":{"text":{"field":"t"}}},
{"data":{"values":[{"i":-0.688,"p":18624.12},{"i":286.76,"p":18624.12}]},"mark":{"type":"line","color":"#8e979d","strokeWidth":1}},
{"data":{"name":"sma"},"mark":{"type":"line","strokeWidth":1.1},"encoding":{"color":{"field":"s","type":"nominal","legend":null,"scale":{"domain":["SMA20","SMA50","SMA200"],"range":["#b9252e","#2b9a6d","#7d84d8"]}}}},
{"data":{"name":"candles"},"mark":{"type":"rule","strokeWidth":1},"encoding":{"y":{"field":"l","type":"quantitative","title":null,"scale":{"domain":[17875.2,18640.9],"nice":false,"zero":false,"padding":0}},"y2":{"field":"h"},"color":{"condition":{"test":"datum.c>=datum.o","value":"#0f7a4f"},"value":"#b0202c"}}},
{"data":{"name":"candles"},"mark":{"type":"bar","size":3.8,"strokeWidth":1},"encoding":{"y":{"field":"o","type":"quantitative","title":null,"scale":{"domain":[17875.2,18640.9],"nice":false,"zero":false,"padding":0}},"y2":{"field":"c"},"fill":{"condition":{"test":"datum.c>=datum.o","value":"#22ab72"},"value":"#f7283f"},"stroke":{"condition":{"test":"datum.c>=datum.o","value":"#0f7a4f"},"value":"#b0202c"}}},
{"data":{"name":"trend"},"mark":{"type":"line","color":"#f41f2d","strokeWidth":3.5},"encoding":{"detail":{"field":"t"}}},
{"data":{"values":[{"i":258.1,"p":18452.2},{"i":271.08,"p":18452.2}]},"mark":{"type":"line","color":"#f41f2d","strokeWidth":4.5,"strokeCap":"round"}},
{"data":{"name":"circles"},"mark":{"type":"line","color":"#3b45c9","strokeWidth":3.2,"interpolate":"cardinal-closed"},"encoding":{"detail":{"field":"e"},"order":{"field":"n"}}},
{"data":{"values":[{"i":287.4,"i2":297.6,"p":18632.9,"p2":18615.3}]},"mark":{"type":"rect","fill":"#8e979d"},"encoding":{"x2":{"field":"i2"},"y2":{"field":"p2"}}},
{"data":{"values":[{"i":287,"p":18624.12}]},"mark":{"type":"point","shape":"triangle-left","filled":true,"fill":"#8e979d","opacity":1,"size":130}},
{"data":{"values":[{"i":287.9,"p":18623.6,"t":"18624.12"}]},"mark":{"type":"text","align":"left","baseline":"middle","font":"Roboto","fontSize":12,"fill":"#ffffff"},"encoding":{"text":{"field":"t"}}},
{"data":{"values":[{"i":2.19,"p":18639.9,"t":"US100"}]},"mark":{"type":"text","align":"left","baseline":"middle","font":"Roboto","fontWeight":"bold","fontSize":12,"fill":"#3c464d"},"encoding":{"text":{"field":"t"}}},
{"data":{"values":[{"i":8.6,"p":18639.4,"t":"CFD"}]},"mark":{"type":"text","align":"left","baseline":"middle","font":"Roboto","fontSize":8.5,"fill":"#8a8f93"},"encoding":{"text":{"field":"t"}}},
{"data":{"values":[{"i":19.32,"i2":26.2,"p":18649.4,"p2":18633.5}]},"mark":{"type":"rect","fill":"#ffffff","stroke":"#dfe2e4","strokeWidth":1,"cornerRadius":2},"encoding":{"x2":{"field":"i2"},"y2":{"field":"p2"}}},
{"data":{"values":[{"i":20.28,"p":18639,"t":"H1"}]},"mark":{"type":"text","align":"left","baseline":"middle","font":"Roboto","fontSize":11,"fill":"#666b70"},"encoding":{"text":{"field":"t"}}},
{"data":{"values":[{"i":12.9,"p":18641.5},{"i":25.08,"p":18641.5}]},"mark":{"type":"point","shape":"triangle-down","filled":true,"fill":"#8a8f93","opacity":1,"size":28}},
{"data":{"values":[{"i":3.95,"p":17911.5,"t":"SMA [200,\u00a0\u00a00] 18201.08"},{"i":3.95,"p":17895.95,"t":"SMA [20,\u00a0\u00a00] 18449.44"},{"i":3.95,"p":17880.8,"t":"SMA [50,\u00a0\u00a00] 18309.20"}]},"mark":{"type":"text","align":"left","baseline":"middle","font":"Roboto","fontSize":11,"fill":"#8d8d8d"},"encoding":{"text":{"field":"t"}}},
{"data":{"values":[{"i":0.75,"p":17912.5,"t":"≣"},{"i":0.75,"p":17897,"t":"≣"},{"i":0.75,"p":17881.8,"t":"≣"}]},"mark":{"type":"text","align":"center","baseline":"middle","font":"DejaVu Sans","fontSize":13,"fill":"#9a9a9a"},"encoding":{"text":{"field":"t"}}},
{"data":{"values":[{"i":2.75,"p":17912.5,"t":"✖"},{"i":2.75,"p":17897,"t":"✖"},{"i":2.75,"p":17881.8,"t":"✖"}]},"mark":{"type":"text","align":"center","baseline":"middle","font":"DejaVu Sans","fontSize":10,"fill":"#a0a0a0"},"encoding":{"text":{"field":"t"}}},
{"data":{"values":[{"i":274.76,"p":17895.6,"t":"26"},{"i":280.2,"p":17895.6,"t":"18"}]},"mark":{"type":"text","align":"left","baseline":"middle","font":"Roboto","fontSize":14.5,"fill":"#f7a233"},"encoding":{"text":{"field":"t"}}},
{"data":{"values":[{"i":277.5,"p":17895.6,"t":"m"},{"i":282.9,"p":17895.6,"t":"Sek"}]},"mark":{"type":"text","align":"left","baseline":"middle","font":"Roboto","fontSize":14.5,"fill":"#b9bcbf"},"encoding":{"text":{"field":"t"}}}
]
}
